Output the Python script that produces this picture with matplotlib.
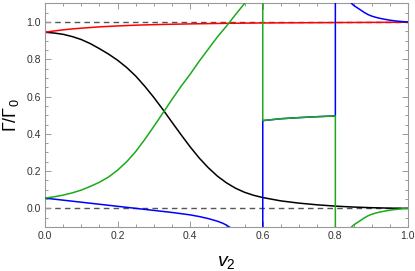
import matplotlib
matplotlib.use('Agg')
import matplotlib.pyplot as plt
from matplotlib.ticker import MultipleLocator

plt.rcParams['font.family'] = ['Liberation Sans', 'DejaVu Sans']
plt.rcParams['mathtext.fontset'] = 'custom'
plt.rcParams['mathtext.rm'] = 'Liberation Sans'
plt.rcParams['mathtext.it'] = 'Liberation Sans:italic'

# curves (v2, Gamma/Gamma0)
black_v = [0.0, 0.025, 0.05, 0.075, 0.1, 0.125, 0.15, 0.175, 0.2, 0.225, 0.25,
           0.275, 0.3, 0.325, 0.35, 0.375, 0.4, 0.425, 0.45, 0.475, 0.5, 0.525,
           0.55, 0.575, 0.6, 0.65, 0.7, 0.75, 0.8, 0.85, 0.9, 0.95, 1.0]
black_g = [0.945, 0.941, 0.934, 0.922, 0.906, 0.884, 0.857, 0.828, 0.795, 0.756,
           0.710, 0.655, 0.595, 0.530, 0.462, 0.395, 0.330, 0.270, 0.218, 0.173,
           0.137, 0.108, 0.086, 0.070, 0.058, 0.040, 0.028, 0.019, 0.012, 0.007,
           0.0035, 0.0012, 0.0]

red_v = [0.0, 0.025, 0.05, 0.075, 0.1, 0.15, 0.2, 0.25, 0.3, 0.4, 0.5, 0.6, 0.8, 1.0]
red_g = [0.945, 0.952, 0.958, 0.963, 0.967, 0.974, 0.979, 0.983, 0.986, 0.99,
         0.993, 0.995, 0.997, 0.999]

green1_v = [0.0, 0.025, 0.05, 0.075, 0.1, 0.125, 0.15, 0.175, 0.2, 0.225, 0.25,
            0.275, 0.3, 0.325, 0.35, 0.375, 0.4, 0.425, 0.45, 0.475, 0.5, 0.525,
            0.55, 0.57]
green1_g = [0.055, 0.062, 0.071, 0.083, 0.098, 0.118, 0.14, 0.168, 0.205, 0.25,
            0.305, 0.37, 0.44, 0.512, 0.585, 0.655, 0.72, 0.79, 0.855, 0.92,
            0.978, 1.04, 1.1, 1.15]

blue1_v = [0.0, 0.05, 0.1, 0.15, 0.2, 0.25, 0.3, 0.35, 0.4, 0.425, 0.45, 0.475,
           0.49, 0.5, 0.51, 0.52]
blue1_g = [0.055, 0.044, 0.033, 0.022, 0.011, 0.0, -0.011, -0.022, -0.035, -0.044,
           -0.055, -0.069, -0.08, -0.09, -0.103, -0.118]

mid_v = [0.6, 0.6, 0.65, 0.7, 0.75, 0.8, 0.8]
green2_g = [1.15, 0.471, 0.481, 0.487, 0.492, 0.496, -0.15]
blue2_g = [-0.15, 0.471, 0.481, 0.487, 0.492, 0.496, 1.15]

tail_v = [0.843, 0.847, 0.852, 0.86, 0.87, 0.88, 0.89, 0.9, 0.91, 0.92, 0.935,
          0.95, 0.965, 0.98, 1.0]
green3_g = [-0.105, -0.095, -0.087, -0.077, -0.064, -0.051, -0.040, -0.032,
            -0.026, -0.021, -0.015, -0.010, -0.006, -0.003, 0.0]
blue3_g = [1.105, 1.095, 1.087, 1.077, 1.064, 1.051, 1.040, 1.032,
           1.026, 1.021, 1.015, 1.010, 1.006, 1.003, 1.0]

GREEN = '#1aaa1a'
BLUE = '#0000ff'
RED = '#ff0000'
lw = 1.1

fig = plt.figure(figsize=(4.15, 2.71), dpi=100)
ax = fig.add_axes([0.1084, 0.1624, 0.8746, 0.8251])

ax.axhline(1.0, color='#555555', lw=1.0, ls=(0, (4, 3)), zorder=1)
ax.axhline(0.0, color='#555555', lw=1.0, ls=(0, (4, 3)), zorder=1)

ax.plot(black_v, black_g, color='black', lw=lw, zorder=2)
ax.plot(red_v, red_g, color=RED, lw=lw, zorder=2)
ax.plot(blue1_v, blue1_g, color=BLUE, lw=lw, zorder=3)
ax.plot(mid_v, blue2_g, color=BLUE, lw=lw, zorder=3)
ax.plot(tail_v, blue3_g, color=BLUE, lw=lw, zorder=3)
ax.plot(green1_v, green1_g, color=GREEN, lw=lw, zorder=4)
ax.plot(mid_v, green2_g, color=GREEN, lw=lw, zorder=4)
ax.plot(tail_v, green3_g, color=GREEN, lw=lw, zorder=4)

ax.set_xlim(0, 1.0)
ax.set_ylim(-0.1, 1.1)
ax.xaxis.set_major_locator(MultipleLocator(0.2))
ax.xaxis.set_minor_locator(MultipleLocator(0.05))
ax.yaxis.set_major_locator(MultipleLocator(0.2))
ax.yaxis.set_minor_locator(MultipleLocator(0.05))
ax.set_xticklabels([f'{t:.1f}' for t in ax.get_xticks()])
ax.set_yticklabels([f'{t:.1f}' for t in ax.get_yticks()])

for s in ax.spines.values():
    s.set_color('#999999')
    s.set_linewidth(0.8)
ax.tick_params(which='both', direction='in', top=True, right=True,
               color='#999999', width=0.7, labelsize=7.5, labelcolor='#333333', pad=3)
ax.tick_params(which='major', length=4)
ax.tick_params(which='minor', length=2.3)

ax.set_xlabel(r'$v_2$', fontsize=14, labelpad=9)
ax.set_ylabel(r'$\Gamma/\Gamma_0$', fontsize=13, labelpad=4)

fig.savefig('out.png', dpi=100, facecolor='white')
